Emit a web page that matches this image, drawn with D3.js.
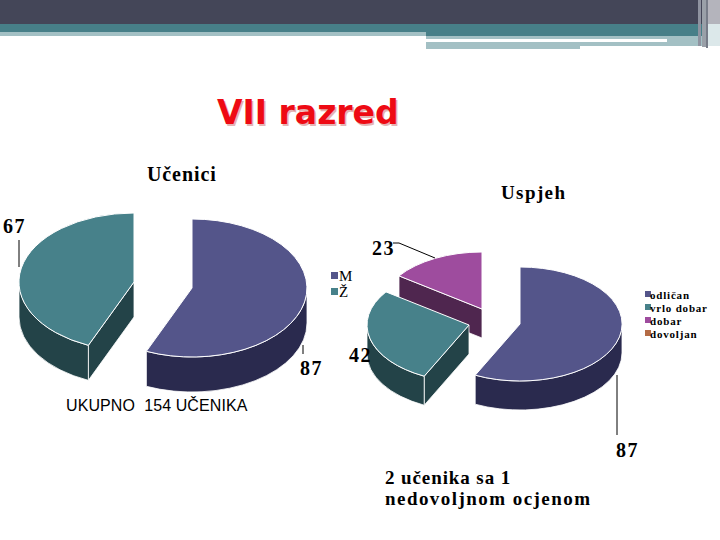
<!DOCTYPE html>
<html><head><meta charset="utf-8">
<script src="https://cdn.jsdelivr.net/npm/d3@7/dist/d3.min.js"></script>
<style>html,body{margin:0;padding:0;background:#fff}svg{display:block}</style>
</head><body><svg id="c" width="720" height="540"></svg>
<script>
const genderCategories = ["M", "Ž"];
const genderValues = [87, 67];
const gradeCategories = ["odličan", "vrlo dobar", "dobar", "dovoljan"];
const gradeValues = [87, 42, 23, 0];
const palette = ["#54558a", "#47818a", "#9e4c9e", "#b46b45"];
const darkPalette = ["#2a2a4e", "#234348", "#4f264f", "#5a3522"];

const svg = d3.select("#c");
const serif = "'Liberation Serif', serif";

// slide decoration
const deco = [
  [0,0,720,24,"#444658"],[0,24,720,8,"#477f88"],[0,32,426,4,"#a3c0c4"],
  [426,32,294,4,"#477f88"],[426,36,294,10,"#a3c0c4"],[426,39,241,3,"#fff"],
  [426,42,154,7,"#a3c0c4"],
  [698,0,3,46,"#8f93a0"],[702,0,4,47,"#9aa0a8"],[708,0,12,24,"#b4b4bc"],[708,24,12,22,"#dce8ea"],
  [706,0,2,48,"#777c88"]
];
svg.selectAll("rect.deco").data(deco).join("rect").attr("class","deco")
  .attr("x",d=>d[0]).attr("y",d=>d[1]).attr("width",d=>d[2]).attr("height",d=>d[3]).attr("fill",d=>d[4]);

// title
[["#e3b4b4",1.5,1.5],["#ee0a14",0,0]].forEach(([f,dx,dy])=>{
  svg.append("text").attr("x",217+dx).attr("y",124+dy).attr("fill",f)
    .attr("font-family","'DejaVu Sans',sans-serif").attr("font-weight","bold").attr("font-size",33)
    .text("VII razred");
});

function text(x,y,s,size,opt={}){
  return svg.append("text").attr("x",x).attr("y",y).text(s)
    .attr("font-family",opt.family||serif).attr("font-weight",opt.weight||"bold")
    .attr("font-size",size).attr("fill","#000").attr("letter-spacing",opt.ls||0);
}

const pie = d3.pie().sort(null).value(d=>d);
const deg90 = Math.PI/2, deg270 = 3*Math.PI/2;

function drawPie(values, g){
  const arcs = pie(values);
  const pt = (c,a,h=0)=>[c[0]+g.rx*Math.sin(a), c[1]-g.ry*Math.cos(a)+h];
  const arcGen = d3.arc().innerRadius(0).outerRadius(1);
  g.order.forEach(i=>{
    const s = arcs[i];
    if (s.endAngle - s.startAngle <= 0) return;
    const c = g.centers[i], col = palette[i], dark = darkPalette[i];
    const grp = svg.append("g");
    // start cut face, visible when it turns toward the viewer
    if (-Math.cos(s.startAngle-deg90) > 0.01){
      const p = pt(c,s.startAngle);
      grp.append("path").attr("d",`M${c[0]},${c[1]}L${p[0]},${p[1]}L${p[0]},${p[1]+g.depth}L${c[0]},${c[1]+g.depth}Z`)
        .attr("fill",dark).attr("stroke","#fff").attr("stroke-width",0.8);
    }
    // outer wall, front half of the ellipse
    const a0 = Math.max(s.startAngle,deg90), a1 = Math.min(s.endAngle,deg270);
    if (a1 > a0){
      const p0 = pt(c,a0), p1 = pt(c,a1);
      grp.append("path")
        .attr("d",`M${p0}A${g.rx},${g.ry} 0 0 1 ${p1}L${p1[0]},${p1[1]+g.depth}A${g.rx},${g.ry} 0 0 0 ${p0[0]},${p0[1]+g.depth}Z`)
        .attr("fill",dark).attr("stroke","#fff").attr("stroke-width",0.8);
    }
    // top face
    grp.append("path").attr("d",arcGen(s))
      .attr("transform",`translate(${c[0]},${c[1]}) scale(${g.rx},${g.ry})`)
      .attr("fill",col).attr("stroke","#fff").attr("stroke-width",1)
      .attr("vector-effect","non-scaling-stroke");
  });
}

drawPie(genderValues,{rx:115,ry:69,depth:35,order:[1,0],centers:[[192,288],[134,282]]});
drawPie(gradeValues,{rx:102,ry:57,depth:29,order:[2,1,0],centers:[[520,324],[469,325],[482,309]]});

// leader lines
const leaders = [[[19,240],[19,267]],[[303,345],[303,354]],[[617,375],[617,435]],[[393,243],[399,243],[435,258]]];
leaders.forEach(l=>svg.append("path").attr("d",d3.line()(l)).attr("fill","none").attr("stroke","#000").attr("stroke-width",1));

// headings and data labels
text(147,181,"Učenici",20,{ls:0.9});
text(501,199,"Uspjeh",19,{ls:1.4});
const lab = (x,y,v)=>text(x,y,String(v),20,{ls:1.6});
lab(3,233,genderValues[1]);
lab(300,375,genderValues[0]);
lab(372,255,gradeValues[2]);
lab(349,362,gradeValues[1]);
lab(616,457,gradeValues[0]);

// legends
genderCategories.forEach((c,i)=>{
  const y = [272,288][i];
  svg.append("rect").attr("x",331).attr("y",y).attr("width",7).attr("height",7).attr("fill",palette[i]);
  text(339,y+9,c,15,{weight:"normal"});
});
gradeCategories.forEach((c,i)=>{
  const y = [291,304,317,330][i];
  svg.append("rect").attr("x",645).attr("y",y).attr("width",6).attr("height",6).attr("fill",palette[i]);
  text(650,y+8,c,11,{ls:0.8});
});

text(66,411,"UKUPNO  154 UČENIKA",16,{family:"'Liberation Sans',sans-serif",weight:"normal",ls:0.1}).style("white-space","pre");
text(385,484,"2 učenika sa 1",19,{ls:0.9});
text(385,505,"nedovoljnom ocjenom",19,{ls:1.45});
</script></body></html>
